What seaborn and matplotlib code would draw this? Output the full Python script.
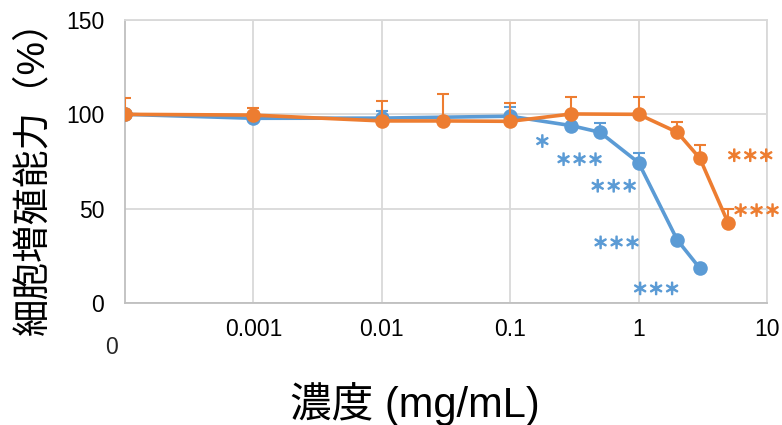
import matplotlib
matplotlib.use("Agg")
import matplotlib.pyplot as plt
import matplotlib.patheffects as pe
import seaborn as sns
import numpy as np
import pandas as pd

# ---- data ----
ZERO_POS = 1e-4  # where the "0" concentration is placed on the log axis
conc_blue = [0, 0.001, 0.01, 0.1, 0.3, 0.5, 1, 2, 3]
viab_blue = [100, 97.9, 98.0, 99.0, 94.0, 90.5, 74.4, 33.4, 18.4]
err_blue = [0, 0, 4.0, 5.0, 0.5, 4.9, 5.3, 0.5, 0.5]

conc_orange = [0, 0.001, 0.01, 0.03, 0.1, 0.3, 1, 2, 3, 5]
viab_orange = [100, 99.6, 96.5, 96.5, 96.3, 100.2, 100.0, 90.5, 76.7, 42.2]
err_orange = [8.6, 3.9, 10.8, 14.3, 9.5, 9.2, 9.4, 5.2, 7.0, 7.6]

x_ticks = [0.001, 0.01, 0.1, 1, 10]
x_ticklabels = ["0.001", "0.01", "0.1", "1", "10"]
y_ticks = [0, 50, 100, 150]

# significance marks
sig_blue_x = [0.178, 0.347, 0.64, 0.674, 1.37]
sig_blue_y = [85.0, 75.4, 61.3, 31.3, 6.9]
sig_blue_txt = ["＊", "＊＊＊", "＊＊＊", "＊＊＊", "＊＊＊"]
sig_orange_x = [7.41, 8.30]
sig_orange_y = [77.5, 48.4]
sig_orange_txt = ["＊＊＊", "＊＊＊"]

BLUE = "#5B9BD5"
ORANGE = "#ED7D31"

sns.set_theme(style="white")
plt.rcParams["font.family"] = ["Liberation Sans", "Noto Sans CJK JP", "DejaVu Sans"]

def to_pos(c):
    return [ZERO_POS if v == 0 else v for v in c]

df_b = pd.DataFrame({"x": to_pos(conc_blue), "y": viab_blue})
df_o = pd.DataFrame({"x": to_pos(conc_orange), "y": viab_orange})

fig = plt.figure(figsize=(7.82, 4.25), dpi=100)
ax = fig.add_axes([125 / 782, 1 - 303 / 425, 642 / 782, 283 / 425])

ax.set_xscale("log")

ax.errorbar(df_b["x"], df_b["y"], yerr=[np.zeros(len(err_blue)), err_blue],
            fmt="none", ecolor=BLUE, elinewidth=1.5, capsize=4.3, capthick=1.5, zorder=3)
sns.lineplot(data=df_b, x="x", y="y", ax=ax, color=BLUE, marker="o",
             markersize=10.5, markeredgewidth=0, linewidth=2.6, zorder=4)
ax.errorbar(df_o["x"], df_o["y"], yerr=[np.zeros(len(err_orange)), err_orange],
            fmt="none", ecolor=ORANGE, elinewidth=1.5, capsize=4.3, capthick=1.5, zorder=5)
sns.lineplot(data=df_o, x="x", y="y", ax=ax, color=ORANGE, marker="o",
             markersize=10.5, markeredgewidth=0, linewidth=2.6, zorder=6)

ax.set_xlim(ZERO_POS, 10)
ax.set_ylim(0, 150)
ax.set_xticks(x_ticks)
ax.set_xticklabels(x_ticklabels)
ax.xaxis.set_minor_locator(matplotlib.ticker.NullLocator())
ax.set_yticks(y_ticks)
ax.tick_params(axis="both", length=0, labelsize=16.5, labelcolor="black")
ax.tick_params(axis="y", pad=15)
ax.tick_params(axis="x", pad=11)

ax.grid(True, which="major", color="#D9D9D9", linewidth=1.3)
ax.set_axisbelow(True)
for s in ["top", "right"]:
    ax.spines[s].set_color("#D9D9D9")
    ax.spines[s].set_linewidth(1.3)
for s in ["left", "bottom"]:
    ax.spines[s].set_color("#BFBFBF")
    ax.spines[s].set_linewidth(1.3)

fig.text(112 / 782, 1 - 348 / 425, "0", fontsize=16.5, ha="center", va="center")

for xs, ys, ts, col in [(sig_blue_x, sig_blue_y, sig_blue_txt, BLUE),
                        (sig_orange_x, sig_orange_y, sig_orange_txt, ORANGE)]:
    for x, y, t in zip(xs, ys, ts):
        ax.annotate(t, (x, y), ha="center", va="center", color=col, fontsize=11.5,
                    annotation_clip=False, zorder=7,
                    path_effects=[pe.withStroke(linewidth=1.1, foreground=col)])

ax.set_xlabel("濃度 (mg/mL)", fontsize=30, color="black")
ax.set_ylabel("細胞増殖能力（%）", fontsize=27, color="black")
ax.xaxis.set_label_coords(0.452, -0.28)
ax.yaxis.set_label_coords(-0.115, 0.475)

fig.savefig("out.png", dpi=100)
